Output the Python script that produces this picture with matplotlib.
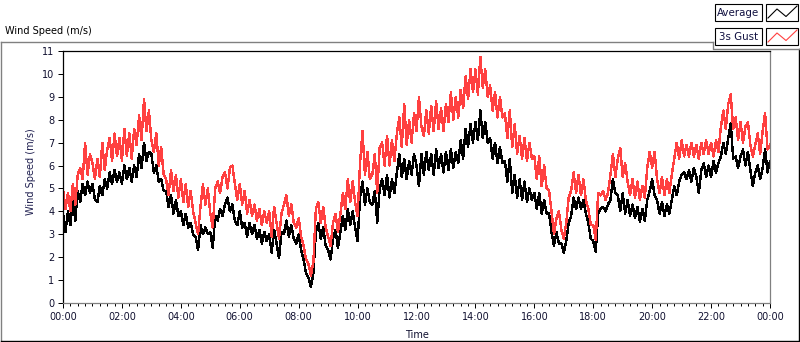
# Wind speed over one day: 5-minute average and 3 s gust
import numpy as np
import matplotlib.pyplot as plt
from matplotlib.lines import Line2D
from matplotlib.patches import Rectangle

# values, one row per hour (5-minute steps), plus 24:00
avg_speed = [
    3.9, 3.1, 4.0, 3.4, 4.5, 3.6, 4.9, 4.4, 5.2, 4.7, 5.3, 4.8,
    5.2, 4.5, 4.4, 5.1, 4.7, 5.4, 5.0, 5.7, 5.2, 5.8, 5.3, 5.7,
    5.2, 6.0, 5.4, 5.9, 5.3, 6.0, 5.5, 6.5, 5.9, 7.0, 6.2, 6.6,
    6.5, 5.7, 6.0, 5.3, 5.4, 4.9, 4.9, 4.2, 4.7, 3.9, 4.5, 3.8,
    4.0, 3.4, 3.9, 3.3, 3.5, 3.0, 2.9, 2.3, 3.4, 3.0, 3.3, 3.0,
    3.1, 2.4, 3.8, 3.6, 4.1, 3.8, 4.3, 4.6, 4.0, 4.3, 3.6, 3.4,
    4.0, 3.3, 3.5, 2.9, 3.5, 3.0, 3.4, 2.8, 3.2, 2.6, 3.1, 2.7,
    3.0, 2.2, 3.2, 2.6, 1.95, 3.1, 3.0, 3.6, 2.9, 3.4, 2.8, 2.6,
    3.0, 2.3, 1.9, 1.3, 1.1, 0.7, 1.3, 3.1, 3.5, 2.8, 3.3, 2.5,
    2.3, 1.9, 2.8, 3.2, 2.4, 3.1, 3.8, 3.2, 4.1, 3.4, 4.0, 3.3,
    2.7, 4.6, 5.3, 4.3, 5.0, 4.4, 4.3, 4.9, 3.5, 5.0, 5.4, 4.7,
    5.6, 4.6, 5.4, 4.8, 5.7, 6.5, 5.5, 6.3, 5.4, 6.2, 5.6, 6.5,
    6.0, 5.1, 6.5, 5.6, 6.6, 5.8, 6.5, 5.6, 6.7, 5.9, 6.5, 5.7,
    6.6, 5.8, 6.7, 5.9, 6.6, 6.1, 7.1, 6.3, 7.6, 6.8, 7.8, 7.0,
    7.9, 7.1, 8.4, 7.2, 7.9, 7.0, 7.2, 6.3, 7.0, 6.1, 6.8, 6.1,
    6.2, 5.3, 6.3, 4.8, 5.6, 4.6, 5.4, 4.5, 5.3, 4.4, 5.0, 4.5,
    4.8, 4.1, 4.8, 3.9, 4.5, 3.9, 3.9, 3.1, 2.5, 3.1, 2.6, 2.6,
    2.2, 2.7, 3.5, 3.8, 4.6, 4.1, 4.6, 4.1, 4.5, 3.9, 3.5, 2.8,
    2.7, 2.25, 3.9, 4.1, 4.2, 4.0, 4.3, 4.5, 5.4, 4.8, 4.7, 4.0,
    4.8, 3.9, 4.5, 3.8, 4.3, 3.7, 4.2, 3.55, 4.1, 3.6, 4.5, 4.9,
    5.4, 4.7, 4.5, 3.9, 4.4, 3.8, 4.3, 3.9, 4.5, 5.1, 4.7, 5.3,
    5.6, 5.7, 5.4, 5.8, 5.3, 5.9, 5.5, 4.8, 5.8, 6.1, 5.5, 6.0,
    5.5, 6.2, 5.7, 6.1, 6.4, 7.0, 6.5, 7.2, 7.85, 6.3, 6.4, 5.9,
    6.4, 6.7, 6.0, 6.6, 5.8, 5.1, 5.7, 6.0, 5.4, 5.9, 6.7, 5.7,
    6.2,
]
gust_speed = [
    5.0, 4.1, 4.8, 4.0, 5.2, 4.3, 5.6, 5.9, 5.4, 7.0, 5.6, 6.5,
    6.1, 5.4, 6.3, 5.5, 7.0, 5.8, 6.7, 7.2, 6.2, 7.4, 6.4, 7.2,
    6.2, 7.6, 6.4, 7.4, 6.3, 7.6, 6.9, 8.2, 7.1, 8.9, 7.5, 8.4,
    7.1, 6.6, 7.4, 6.0, 6.8, 5.6, 5.4, 4.7, 5.8, 4.9, 5.6, 4.6,
    5.4, 4.4, 5.2, 4.2, 4.9, 4.0, 3.5, 3.0, 4.2, 5.2, 4.3, 5.0,
    3.9, 3.3, 5.0, 5.3, 4.8, 5.5, 5.7, 5.0, 5.9, 6.0, 5.2, 4.5,
    5.2, 4.3, 4.9, 3.9, 4.5, 3.8, 4.3, 3.6, 4.1, 3.4, 4.0, 3.5,
    4.0, 2.9, 4.2, 3.5, 2.8, 3.9, 4.3, 4.7, 3.8, 4.3, 3.5, 3.3,
    3.7, 2.9, 2.5, 1.9, 1.7, 1.2, 1.8, 4.1, 4.4, 3.5, 4.2, 3.3,
    2.9, 2.5, 3.5, 3.9, 3.1, 3.9, 4.8, 4.1, 5.4, 4.4, 5.3, 4.4,
    3.8, 6.1, 7.5, 5.6, 6.6, 5.4, 5.6, 6.5, 4.8, 6.8, 7.0, 6.0,
    7.3, 6.0, 7.1, 6.2, 7.4, 8.1, 6.8, 8.7, 6.9, 8.0, 7.0, 8.3,
    7.5, 9.0, 7.7, 7.3, 8.4, 7.4, 8.6, 7.5, 8.8, 7.6, 8.5, 7.5,
    8.7, 7.9, 9.2, 8.0, 9.0, 8.1, 9.3, 8.5, 9.9, 8.9, 10.2, 9.2,
    10.2, 9.1, 10.75, 9.4, 10.2, 9.0, 9.5, 8.4, 9.2, 8.1, 9.0, 8.1,
    8.3, 7.2, 8.4, 6.8, 7.8, 6.5, 7.3, 6.3, 7.2, 6.2, 7.0, 6.3,
    6.4, 5.4, 6.4, 5.1, 6.0, 5.0, 4.9, 4.0, 3.0, 3.7, 4.0, 3.2,
    2.8, 3.5, 4.6, 4.9, 5.7, 4.8, 5.6, 4.7, 5.4, 4.5, 4.1, 3.4,
    3.4, 2.75, 4.8, 4.7, 4.9, 4.5, 4.8, 5.6, 6.5, 5.5, 6.3, 6.75,
    5.5, 6.1, 5.3, 4.7, 5.4, 4.6, 5.3, 4.5, 5.1, 4.6, 5.9, 6.6,
    5.9, 6.6, 5.4, 4.8, 5.5, 4.7, 5.4, 4.8, 5.6, 6.3, 7.0, 6.3,
    7.1, 6.4, 6.9, 6.4, 7.0, 6.4, 6.9, 6.3, 7.0, 6.5, 7.1, 6.5,
    7.0, 6.4, 7.1, 6.6, 7.7, 8.4, 7.6, 8.7, 9.1, 7.6, 8.1, 7.1,
    7.9, 7.0, 7.7, 7.9, 6.9, 6.4, 6.9, 7.4, 6.5, 7.5, 8.3, 6.7,
    6.9,
]
hours = np.arange(len(avg_speed)) * 5 / 60.0

tick_hours = list(range(0, 25, 2))
tick_labels = ['00:00', '02:00', '04:00', '06:00', '08:00', '10:00', '12:00',
               '14:00', '16:00', '18:00', '20:00', '22:00', '00:00']
series_names = ['Average', '3s Gust']
series_colors = ['black', '#ff4040']

W, H = 800, 342


def fx(x):
    return x / W


def fy(y):
    return 1 - y / H


plt.rcParams['font.family'] = 'DejaVu Sans'
fig = plt.figure(figsize=(W / 100, H / 100), dpi=100)
fig.patch.set_facecolor('white')

ax = fig.add_axes([fx(63), fy(303), (770 - 63) / W, (303 - 51) / H])
ax.plot(hours, avg_speed, color=series_colors[0], lw=1.0, antialiased=False)
ax.plot(hours, gust_speed, color=series_colors[1], lw=1.0, antialiased=False)

ax.set_xlim(0, 24)
ax.set_ylim(0, 11)
ax.set_yticks(range(0, 12))
ax.set_xticks(tick_hours)
ax.set_xticklabels(tick_labels)
ax.set_xticks(np.arange(0, 24.01, 0.25), minor=True)
ax.tick_params(axis='both', which='major', labelsize=7, length=3.6, width=0.72,
               color='black', labelcolor='#101030', pad=2.5)
ax.tick_params(axis='x', which='minor', length=2.2, width=0.72, color='black')
ax.tick_params(axis='x', which='major', pad=3)
ax.spines['top'].set_color('black')
ax.spines['left'].set_color('black')
ax.spines['bottom'].set_color('#808080')
ax.spines['right'].set_color('#808080')
for s in ax.spines.values():
    s.set_linewidth(0.9)

fig.text(fx(417), fy(334.5), 'Time', ha='center', va='center', fontsize=7, color='#101030')
fig.text(fx(31), fy(172), 'Wind Speed (m/s)', ha='center', va='center', rotation=90,
         fontsize=7, color='#202050')
fig.text(fx(5), fy(31.5), 'Wind Speed (m/s)', ha='left', va='center', fontsize=7, color='black')

# outer frame
frame = [((0.5, 42), (713, 42), '#808080'), ((0.5, 42), (0.5, 341), '#808080'),
         ((0.5, 341), (799, 341), 'black'), ((798.5, 49), (798.5, 341), 'black')]
for (x0, y0), (x1, y1), c in frame:
    fig.add_artist(Line2D([fx(x0), fx(x1)], [fy(y0), fy(y1)], color=c, lw=1.0,
                          transform=fig.transFigure))

# legend boxes
for i, (name, col) in enumerate(zip(series_names, series_colors)):
    top = 4 + 24 * i
    fig.add_artist(Rectangle((fx(715), fy(top + 17)), 47 / W, 17 / H, fill=True,
                             facecolor='white', edgecolor='black', lw=0.8,
                             transform=fig.transFigure))
    fig.text(fx(738.5), fy(top + 8.5), name, ha='center', va='center', fontsize=7.4,
             color='#101040')
    fig.add_artist(Rectangle((fx(766), fy(top + 17)), 32 / W, 17 / H, fill=True,
                             facecolor='white', edgecolor='black', lw=0.8,
                             transform=fig.transFigure))
    zx = [768, 777, 786, 797]
    zy = [top + 14, top + 5, top + 12.5, top + 2]
    fig.add_artist(Line2D([fx(v) for v in zx], [fy(v) for v in zy], color=col, lw=0.8,
                          transform=fig.transFigure))
fig.add_artist(Line2D([fx(713), fx(713), fx(798.5)], [fy(42), fy(49), fy(49)],
                      color='#808080', lw=1.0, transform=fig.transFigure))

fig.savefig('out.png', dpi=100)
